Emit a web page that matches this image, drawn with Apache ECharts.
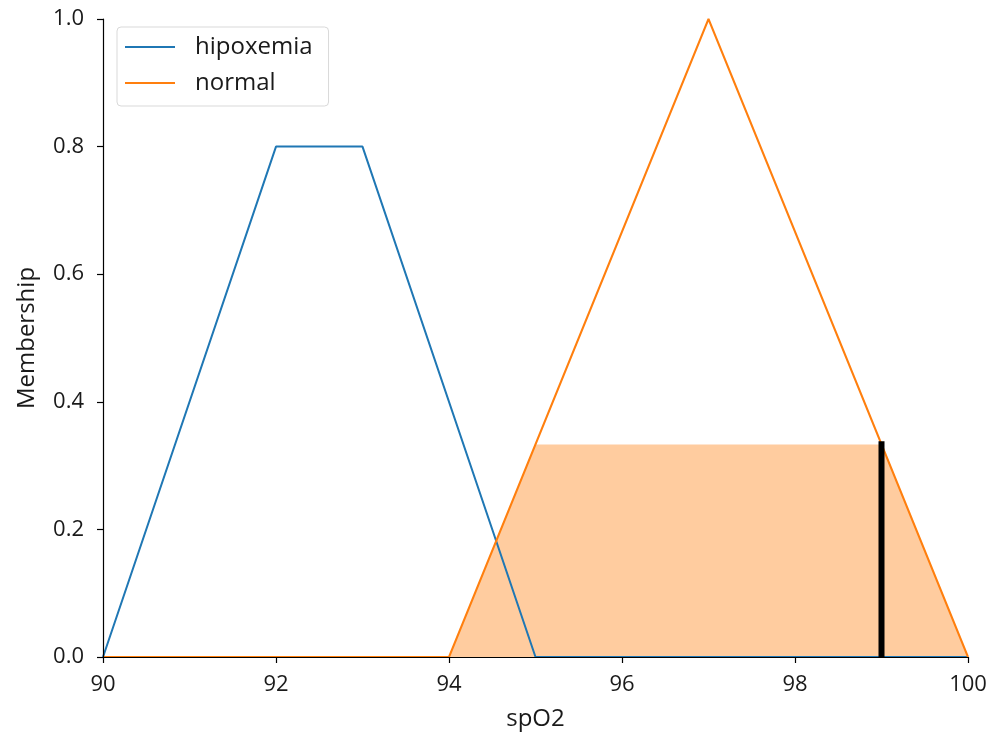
<!DOCTYPE html>
<html>
<head>
<meta charset="utf-8">
<script src="https://cdn.jsdelivr.net/npm/echarts@6/dist/echarts.min.js"></script>
<style>html,body{margin:0;padding:0;background:#fff;}#chart{width:1000px;height:734px;}</style>
</head>
<body>
<div id="chart"></div>
<script>
const xTicks = [90, 92, 94, 96, 98, 100];
const yTicks = [0.0, 0.2, 0.4, 0.6, 0.8, 1.0];
const hipoxemia = [[90, 0], [92, 0.8], [93, 0.8], [95, 0], [100, 0]];
const normal = [[90, 0], [94, 0], [97, 1], [100, 0]];
const activation = [[94, 0], [95, 0.333], [99, 0.333], [100, 0]];
const crispLine = [[99, 0], [99, 0.338]];
const seriesNames = ['hipoxemia', 'normal'];

const FONT = 'Open Sans';
const TEXT = '#1a1a1a';
const chart = echarts.init(document.getElementById('chart'), null, {renderer: 'canvas'});
chart.setOption({
  animation: false,
  backgroundColor: '#fff',
  grid: {left: 103, right: 32, top: 19, bottom: 77, outerBoundsMode: 'none', containLabel: false},
  legend: {
    data: seriesNames,
    orient: 'vertical',
    left: 117, top: 27,
    padding: [8, 16, 11, 8],
    itemGap: 12,
    itemWidth: 50, itemHeight: 2,
    icon: 'rect',
    borderColor: '#d9d9d9', borderWidth: 1, borderRadius: 4,
    backgroundColor: 'rgba(255,255,255,0.8)',
    textStyle: {fontFamily: FONT, fontSize: 24, lineHeight: 24, color: TEXT, padding: [0, 0, 0, 15]}
  },
  xAxis: {
    type: 'value', min: 90, max: 100, interval: 2, z: 10,
    name: 'spO2', nameLocation: 'middle', nameGap: 50,
    nameTextStyle: {fontFamily: FONT, fontSize: 24, color: TEXT},
    axisLine: {lineStyle: {color: '#000', width: 1.2}},
    axisTick: {length: 6, lineStyle: {color: '#000', width: 1.2}},
    axisLabel: {fontFamily: FONT, fontSize: 22, color: TEXT, margin: 17},
    splitLine: {show: false}
  },
  yAxis: {
    type: 'value', min: 0, max: 1, interval: 0.2, z: 10,
    name: 'Membership', nameLocation: 'middle', nameGap: 64, nameRotate: 90,
    nameTextStyle: {fontFamily: FONT, fontSize: 24, color: TEXT},
    axisLine: {show: true, lineStyle: {color: '#000', width: 1.2}},
    axisTick: {show: true, length: 6, lineStyle: {color: '#000', width: 1.2}},
    axisLabel: {fontFamily: FONT, fontSize: 22, color: TEXT, margin: 19,
      formatter: v => v.toFixed(1)},
    splitLine: {show: false}
  },
  series: [
    {name: 'fill', type: 'line', data: activation, symbol: 'none', z: 1,
     lineStyle: {width: 0}, areaStyle: {color: 'rgba(255,127,14,0.4)', opacity: 1}, silent: true},
    {name: 'hipoxemia', type: 'line', data: hipoxemia, symbol: 'none', z: 3,
     color: '#1f77b4', lineStyle: {width: 2, color: '#1f77b4'}},
    {name: 'normal', type: 'line', data: normal, symbol: 'none', z: 3,
     color: '#ff7f0e', lineStyle: {width: 2, color: '#ff7f0e'}},
    {name: 'crisp', type: 'line', data: crispLine, symbol: 'none', z: 4,
     lineStyle: {width: 6, color: '#000'}}
  ]
});
</script>
</body>
</html>
